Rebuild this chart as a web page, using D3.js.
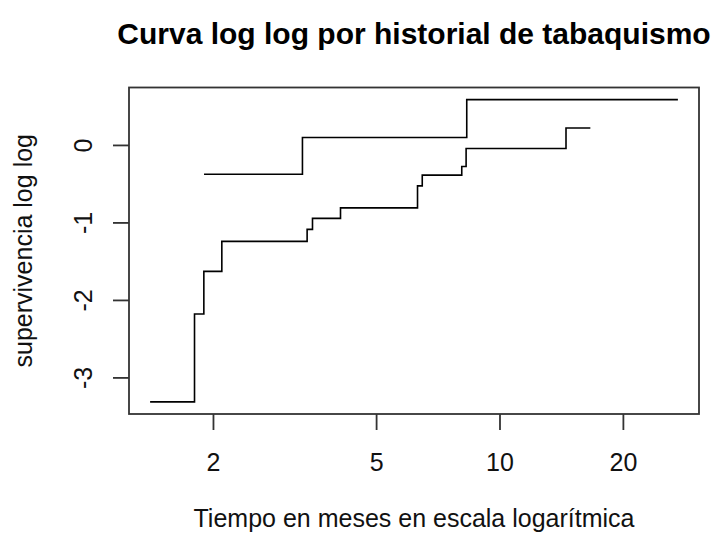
<!DOCTYPE html>
<html>
<head>
<meta charset="utf-8">
<script src="https://cdn.jsdelivr.net/npm/d3@7"></script>
<style>
  html, body { margin: 0; padding: 0; background: #fff; }
  svg { display: block; font-family: "Liberation Sans", Arial, Helvetica, sans-serif; }
</style>
</head>
<body>
<svg id="chart" width="718" height="535"></svg>
<script>
// Complementary log-log survival curves (log(-log S(t))) by smoking history.
// Each group: step start times, the curve value after each step, and the last follow-up time.
const groupATimes  = [1.902, 3.306, 8.32];
const groupAValues = [-0.378, 0.095, 0.585];
const groupAEnd    = 27.24;

const groupBTimes  = [1.405, 1.803, 1.900, 2.102, 3.394, 3.498, 4.094, 6.31, 6.48, 8.09, 8.29, 14.53];
const groupBValues = [-3.316, -2.182, -1.631, -1.245, -1.09, -0.948, -0.812, -0.528, -0.390, -0.278, -0.046, 0.219];
const groupBEnd    = 16.66;

const xTickValues = [2, 5, 10, 20];
const yTickValues = [-3, -2, -1, 0];

const titleText = "Curva log log por historial de tabaquismo";
const xLabel = "Tiempo en meses en escala logarítmica";
const yLabel = "supervivencia log log";

const plot = { left: 129, right: 699, top: 87.5, bottom: 414 };
const svg = d3.select("#chart");

// R-style 4% axis expansion
function expand(lo, hi) {
  const pad = (hi - lo) * 0.04;
  return [lo - pad, hi + pad];
}
const allTimes = groupATimes.concat(groupBTimes, [groupAEnd, groupBEnd]);
const allValues = groupAValues.concat(groupBValues);
const logExt = expand(Math.log10(d3.min(allTimes)), Math.log10(d3.max(allTimes)));
const x = d3.scaleLog()
  .domain([Math.pow(10, logExt[0]), Math.pow(10, logExt[1])])
  .range([plot.left, plot.right]);
const y = d3.scaleLinear()
  .domain(expand(d3.min(allValues), d3.max(allValues)))
  .range([plot.bottom, plot.top]);

// Step curves
function stepPoints(times, values, end) {
  const pts = times.map((t, i) => [t, values[i]]);
  pts.push([end, values[values.length - 1]]);
  return pts;
}
const line = d3.line()
  .x(d => x(d[0]))
  .y(d => y(d[1]))
  .curve(d3.curveStepAfter);

[[groupATimes, groupAValues, groupAEnd], [groupBTimes, groupBValues, groupBEnd]]
  .forEach(([t, v, e]) => {
    svg.append("path")
      .attr("d", line(stepPoints(t, v, e)))
      .attr("fill", "none")
      .attr("stroke", "#000")
      .attr("stroke-width", 1.6);
  });

// Plain hyphen-minus labels
const plainFormat = d => String(d);

// Axes
const xAxis = svg.append("g")
  .attr("transform", `translate(0,${plot.bottom})`)
  .call(d3.axisBottom(x).tickValues(xTickValues).tickFormat(plainFormat).tickSize(16).tickSizeOuter(0));
xAxis.select(".domain").remove();
xAxis.selectAll(".tick line").attr("stroke", "#333").attr("stroke-width", 1.8);
xAxis.selectAll(".tick text")
  .attr("y", 56.5).attr("dy", 0)
  .attr("font-size", 25).attr("fill", "#111")
  .attr("font-family", "Liberation Sans, Arial, sans-serif");

const yAxis = svg.append("g")
  .attr("transform", `translate(${plot.left},0)`)
  .call(d3.axisLeft(y).tickValues(yTickValues).tickFormat(plainFormat).tickSize(16).tickSizeOuter(0));
yAxis.select(".domain").remove();
yAxis.selectAll(".tick line").attr("stroke", "#333").attr("stroke-width", 1.8);
yAxis.selectAll(".tick text")
  .attr("x", 0).attr("dy", 0)
  .attr("text-anchor", "middle")
  .attr("transform", "translate(-37,0) rotate(-90)")
  .attr("font-size", 25).attr("fill", "#111")
  .attr("font-family", "Liberation Sans, Arial, sans-serif");

// Plot frame
svg.append("rect")
  .attr("x", plot.left).attr("y", plot.top)
  .attr("width", plot.right - plot.left).attr("height", plot.bottom - plot.top)
  .attr("fill", "none").attr("stroke", "#333").attr("stroke-width", 1.8);

// Titles
svg.append("text")
  .attr("x", (plot.left + plot.right) / 2).attr("y", 44)
  .attr("text-anchor", "middle")
  .attr("font-size", 30).attr("font-weight", "bold").attr("fill", "#000")
  .text(titleText);

svg.append("text")
  .attr("x", (plot.left + plot.right) / 2).attr("y", 527)
  .attr("text-anchor", "middle")
  .attr("font-size", 25).attr("fill", "#111")
  .text(xLabel);

svg.append("text")
  .attr("transform", `translate(32,${(plot.top + plot.bottom) / 2}) rotate(-90)`)
  .attr("text-anchor", "middle")
  .attr("font-size", 25).attr("fill", "#111")
  .text(yLabel);
</script>
</body>
</html>
